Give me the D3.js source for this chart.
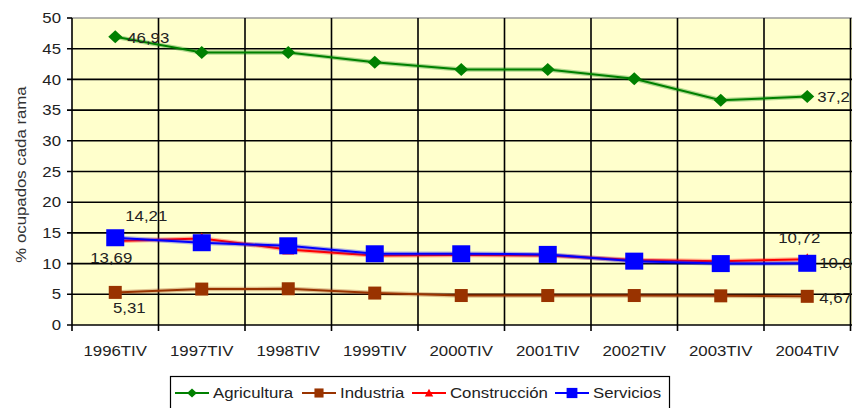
<!DOCTYPE html>
<html><head><meta charset="utf-8">
<script src="https://cdn.jsdelivr.net/npm/d3@7"></script>
<style>body{margin:0;background:#fff}svg{display:block}text{font-family:"Liberation Sans",Arial,sans-serif;fill:#222}</style>
</head><body><svg id="c" width="852" height="408"></svg>
<script>
const categories = ["1996TIV","1997TIV","1998TIV","1999TIV","2000TIV","2001TIV","2002TIV","2003TIV","2004TIV"];
const agricultura = [46.93,44.4,44.4,42.8,41.6,41.6,40.1,36.6,37.2];
const industria = [5.31,5.85,5.9,5.2,4.8,4.8,4.8,4.75,4.67];
const construccion = [13.69,14.1,12.3,11.3,11.4,11.3,10.6,10.4,10.72];
const servicios = [14.21,13.4,12.9,11.6,11.6,11.5,10.4,10.0,10.05];
const yTicks = [0,5,10,15,20,25,30,35,40,45,50];
const seriesNames = ["Agricultura","Industria","Construcción","Servicios"];

const svg = d3.select("#c");
const L = 72, R = 850.5, T = 18, B = 325;
const x = d3.scaleBand().domain(categories).range([L, R]).paddingInner(0).paddingOuter(0);
const y = d3.scaleLinear().domain([0, 50]).range([B, T]);
const cx = c => x(c) + x.bandwidth() / 2;
const SX = 1.12;
function txt(g, px, py, s, anchor, size) {
  return g.append("text").attr("transform", `translate(${px},${py}) scale(${SX},1)`)
    .attr("text-anchor", anchor || "start").attr("dominant-baseline", "central")
    .style("font-size", (size || 15) + "px").text(s);
}

// plot background
svg.append("rect").attr("x", L).attr("y", T).attr("width", 852 - L).attr("height", B - T).attr("fill", "#FFFFCC");
// top border
svg.append("line").attr("x1", L).attr("x2", 852).attr("y1", T).attr("y2", T).attr("stroke", "#999").attr("stroke-width", 1.5);

// horizontal grid
const grid = svg.append("g");
yTicks.forEach(t => {
  if (t === 50) return;
  grid.append("line").attr("x1", L - 5).attr("x2", 852).attr("y1", y(t)).attr("y2", y(t)).attr("stroke", "#000").attr("stroke-width", 1.6);
});
// vertical grid at category boundaries
categories.forEach((c, i) => {
  const xx = x(c) + x.bandwidth();
  grid.append("line").attr("x1", xx).attr("x2", xx).attr("y1", T).attr("y2", B + 6).attr("stroke", "#000").attr("stroke-width", 1.6);
});
// y axis line
svg.append("line").attr("x1", L).attr("x2", L).attr("y1", T).attr("y2", B + 6).attr("stroke", "#000").attr("stroke-width", 1.6);
svg.append("line").attr("x1", L - 5).attr("x2", L).attr("y1", T).attr("y2", T).attr("stroke", "#000").attr("stroke-width", 1.6);

// y tick labels
const axg = svg.append("g");
yTicks.forEach(t => txt(axg, 61, y(t), String(t), "end", 15));
// x tick labels
categories.forEach(c => txt(axg, cx(c), 351, c, "middle", 15));
// y axis title
svg.append("text").attr("transform", `translate(21,${(T + B) / 2 + 3}) rotate(-90) scale(${SX},1)`)
  .attr("text-anchor", "middle").attr("dominant-baseline", "central").style("font-size", "15px").style("fill", "#333")
  .text("% ocupados cada rama");

// series
const series = [
  {name: seriesNames[0], vals: agricultura, color: "#008000", marker: "diamond"},
  {name: seriesNames[1], vals: industria, color: "#993300", marker: "square"},
  {name: seriesNames[2], vals: construccion, color: "#FF0000", marker: "triangle"},
  {name: seriesNames[3], vals: servicios, color: "#0000FF", marker: "bigsquare"}
];
function marker(g, m, px, py, color, s) {
  s = s || 1;
  if (m === "diamond") g.append("path").attr("d", `M${px},${py - 6.5 * s}L${px + 7 * s},${py}L${px},${py + 6.5 * s}L${px - 7 * s},${py}Z`).attr("fill", color);
  else if (m === "square") g.append("rect").attr("x", px - 6.5 * s).attr("y", py - 6.5 * s).attr("width", 13 * s).attr("height", 13 * s).attr("fill", color);
  else if (m === "triangle") g.append("path").attr("d", `M${px},${py - 6 * s}L${px + 6 * s},${py + 5 * s}L${px - 6 * s},${py + 5 * s}Z`).attr("fill", color);
  else g.append("rect").attr("x", px - 9 * s).attr("y", py - 8.5 * s).attr("width", 18 * s).attr("height", 17 * s).attr("fill", color);
}
const line = d3.line().x((d, i) => cx(categories[i])).y(d => y(d));
const sg = svg.append("g");
series.forEach(s => {
  const ser = sg.append("g");
  ser.append("path").attr("d", line(s.vals)).attr("fill", "none").attr("stroke", s.color).attr("stroke-opacity", 0.3).attr("stroke-width", 4.5);
  ser.append("path").attr("d", line(s.vals)).attr("fill", "none").attr("stroke", s.color).attr("stroke-width", 2);
  s.vals.forEach((v, i) => marker(ser, s.marker, cx(categories[i]), y(v), s.color));
});

// data labels
const fmt = v => String(v).replace(".", ",");
const lg = svg.append("g");
const first = categories[0], last = categories[categories.length - 1], n = categories.length - 1;
txt(lg, cx(first) + 12, y(agricultura[0]) + 1, fmt(agricultura[0]));
txt(lg, cx(last) + 10, y(agricultura[n]), fmt(agricultura[n]));
txt(lg, cx(first) + 31, y(servicios[0]) - 22, fmt(servicios[0]), "middle");
txt(lg, cx(first) - 4, y(construccion[0]) + 17, fmt(construccion[0]), "middle");
txt(lg, cx(first) + 14, y(industria[0]) + 15, fmt(industria[0]), "middle");
txt(lg, cx(last) - 8, y(construccion[n]) - 21, fmt(construccion[n]), "middle");
txt(lg, cx(last) + 12, y(servicios[n]), fmt(servicios[n]));
txt(lg, cx(last) + 12, y(industria[n]) + 1, fmt(industria[n]));

// legend
const leg = svg.append("g");
leg.append("rect").attr("x", 170.5).attr("y", 376.5).attr("width", 499).attr("height", 40).attr("fill", "#fff").attr("stroke", "#000").attr("stroke-width", 1.2);
const legX = [175, 302, 412, 555];
series.forEach((s, i) => {
  const lx = legX[i], ly = 393;
  leg.append("line").attr("x1", lx).attr("x2", lx + 34).attr("y1", ly).attr("y2", ly).attr("stroke", s.color).attr("stroke-width", 2);
  marker(leg, s.marker, lx + 17, ly, s.color, s.marker === "bigsquare" ? 0.6 : 0.7);
  txt(leg, lx + 38, ly, s.name, "start", 15);
});
</script></body></html>
